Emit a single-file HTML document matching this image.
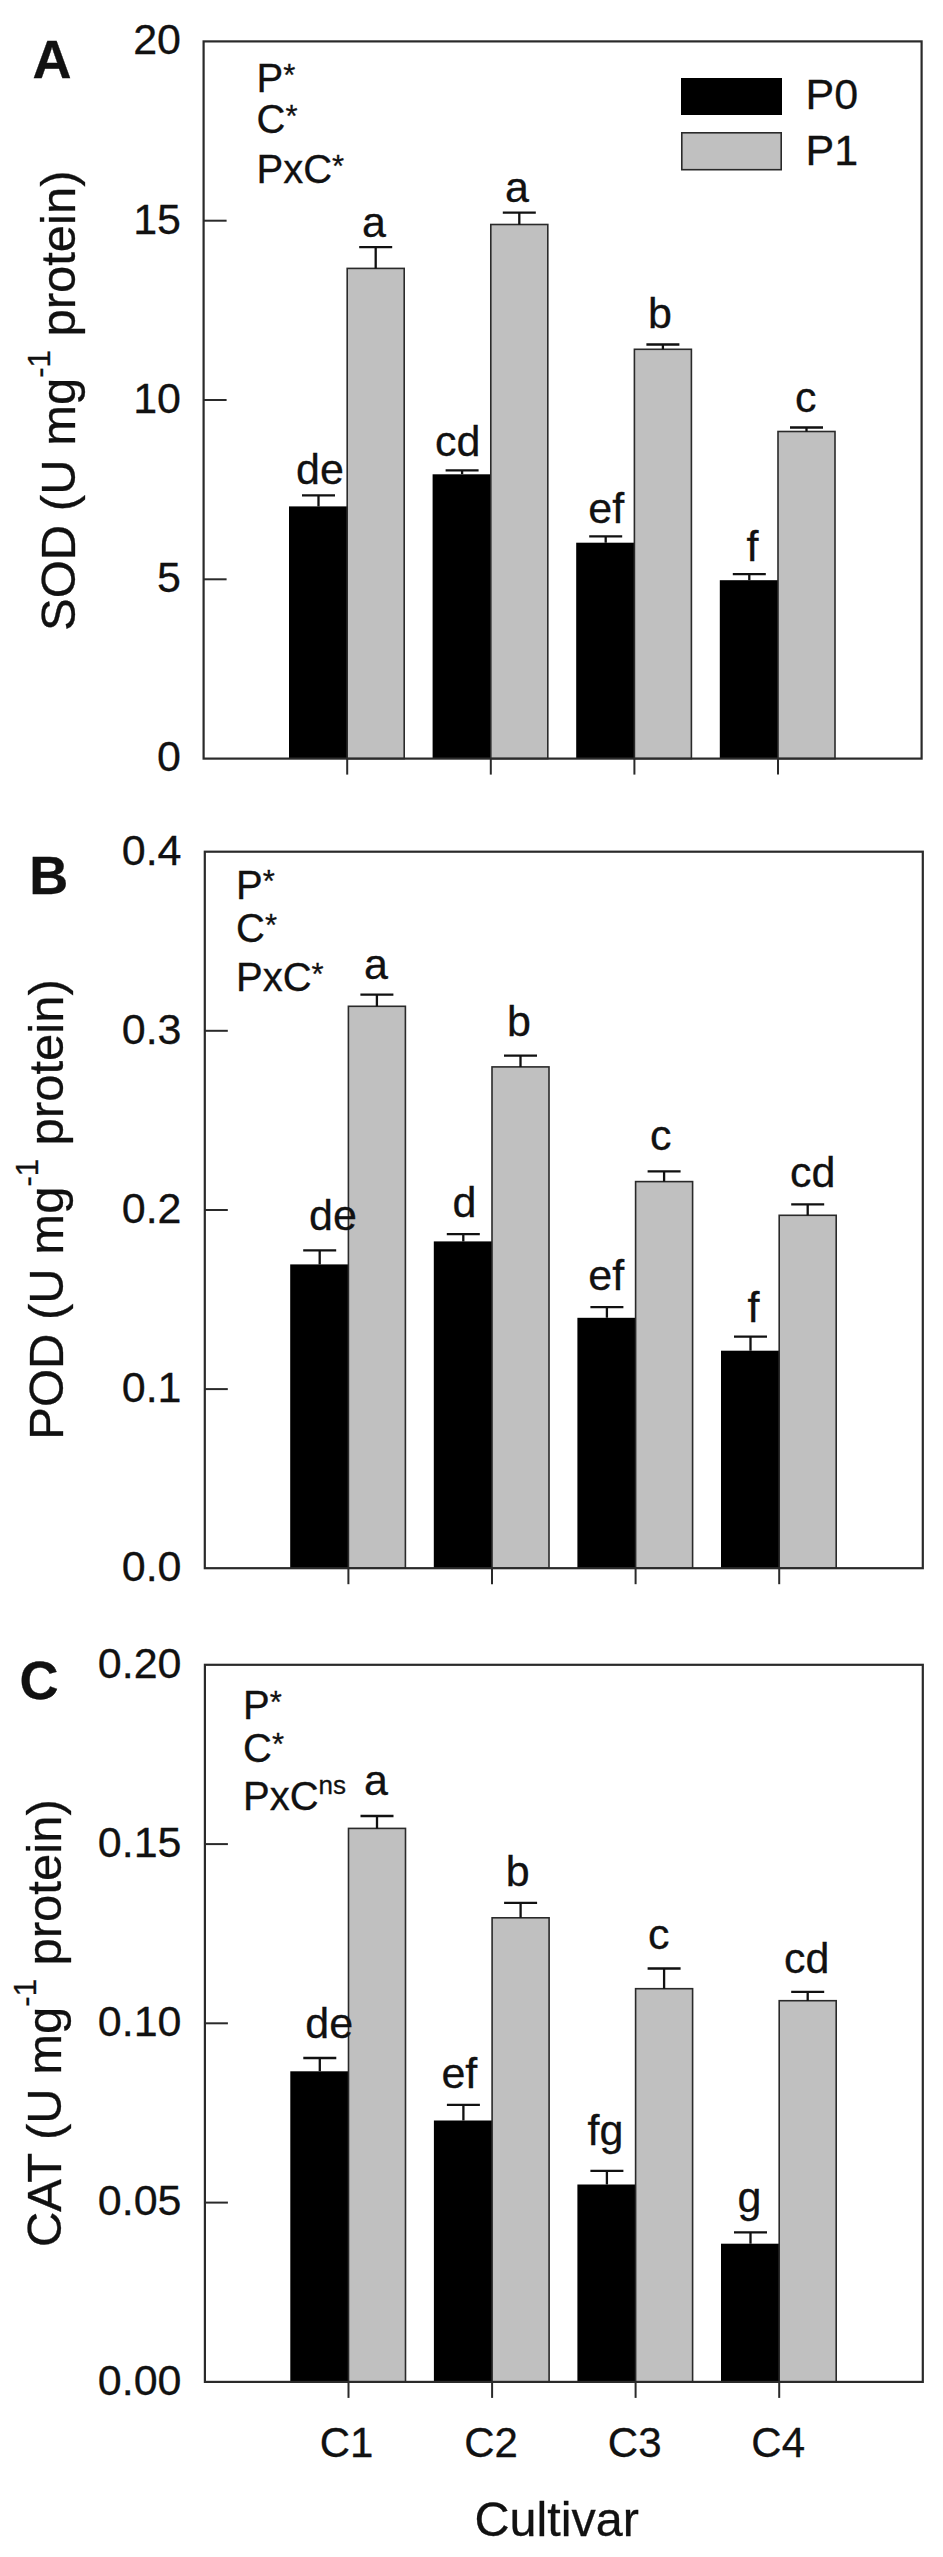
<!DOCTYPE html>
<html lang="en"><head><meta charset="utf-8"><title>Figure</title>
<style>
html,body{margin:0;padding:0;background:#fff;}
svg{display:block;}
text{font-family:"Liberation Sans", sans-serif;fill:#111;stroke:#111;stroke-width:0.3px;}
</style></head><body>
<svg width="943" height="2557" viewBox="0 0 943 2557">
<rect width="943" height="2557" fill="#fff"/>
<rect x="289.0" y="506.4" width="58.2" height="252.2" fill="#000"/>
<rect x="347.2" y="268.4" width="57.0" height="490.2" fill="#c0c0c0" stroke="#2a2a2a" stroke-width="1.6"/>
<path d="M318.5 506.4V495.3M302.0 495.3H335.0" stroke="#111" stroke-width="2.3" fill="none"/>
<path d="M375.7 268.4V247.1M359.2 247.1H392.2" stroke="#111" stroke-width="2.3" fill="none"/>
<rect x="432.6" y="474.3" width="58.2" height="284.3" fill="#000"/>
<rect x="490.8" y="224.5" width="57.0" height="534.1" fill="#c0c0c0" stroke="#2a2a2a" stroke-width="1.6"/>
<path d="M462.1 474.3V470.4M445.6 470.4H478.6" stroke="#111" stroke-width="2.3" fill="none"/>
<path d="M519.3 224.5V212.7M502.8 212.7H535.8" stroke="#111" stroke-width="2.3" fill="none"/>
<rect x="576.2" y="542.7" width="58.2" height="215.9" fill="#000"/>
<rect x="634.4" y="349.3" width="57.0" height="409.3" fill="#c0c0c0" stroke="#2a2a2a" stroke-width="1.6"/>
<path d="M605.7 542.7V536.3M589.2 536.3H622.2" stroke="#111" stroke-width="2.3" fill="none"/>
<path d="M662.9 349.3V344.5M646.4 344.5H679.4" stroke="#111" stroke-width="2.3" fill="none"/>
<rect x="719.8" y="580.2" width="58.2" height="178.4" fill="#000"/>
<rect x="778.0" y="431.5" width="57.0" height="327.1" fill="#c0c0c0" stroke="#2a2a2a" stroke-width="1.6"/>
<path d="M749.3 580.2V574.2M732.8 574.2H765.8" stroke="#111" stroke-width="2.3" fill="none"/>
<path d="M806.5 431.5V427.5M790.0 427.5H823.0" stroke="#111" stroke-width="2.3" fill="none"/>
<rect x="203.6" y="41.4" width="718.0" height="717.2" fill="none" stroke="#2a2a2a" stroke-width="2.2"/>
<line x1="203.6" y1="220.7" x2="226.6" y2="220.7" stroke="#2a2a2a" stroke-width="2"/>
<line x1="203.6" y1="400.0" x2="226.6" y2="400.0" stroke="#2a2a2a" stroke-width="2"/>
<line x1="203.6" y1="579.3" x2="226.6" y2="579.3" stroke="#2a2a2a" stroke-width="2"/>
<line x1="347.2" y1="758.6" x2="347.2" y2="774.6" stroke="#2a2a2a" stroke-width="2"/>
<line x1="490.8" y1="758.6" x2="490.8" y2="774.6" stroke="#2a2a2a" stroke-width="2"/>
<line x1="634.4" y1="758.6" x2="634.4" y2="774.6" stroke="#2a2a2a" stroke-width="2"/>
<line x1="778.0" y1="758.6" x2="778.0" y2="774.6" stroke="#2a2a2a" stroke-width="2"/>
<text x="181.0" y="54.2" font-size="43" text-anchor="end">20</text>
<text x="181.0" y="233.5" font-size="43" text-anchor="end">15</text>
<text x="181.0" y="412.8" font-size="43" text-anchor="end">10</text>
<text x="181.0" y="592.1" font-size="43" text-anchor="end">5</text>
<text x="181.0" y="771.4" font-size="43" text-anchor="end">0</text>
<text x="320.0" y="483.5" font-size="43" text-anchor="middle">de</text>
<text x="374.0" y="236.5" font-size="43" text-anchor="middle">a</text>
<text x="457.7" y="456.1" font-size="43" text-anchor="middle">cd</text>
<text x="517.0" y="201.5" font-size="43" text-anchor="middle">a</text>
<text x="606.3" y="523.0" font-size="43" text-anchor="middle">ef</text>
<text x="660.0" y="327.5" font-size="43" text-anchor="middle">b</text>
<text x="752.6" y="560.9" font-size="43" text-anchor="middle">f</text>
<text x="805.8" y="412.0" font-size="43" text-anchor="middle">c</text>
<text x="256.5" y="92.0" font-size="40">P<tspan font-size="31" dy="-6.4">*</tspan></text>
<text x="256.5" y="133.0" font-size="40">C<tspan font-size="31" dy="-6.4">*</tspan></text>
<text x="256.5" y="183.2" font-size="40">PxC<tspan font-size="31" dy="-6.4">*</tspan></text>
<text x="32.4" y="78.2" font-size="54" font-weight="bold">A</text>
<text transform="translate(75.3 400.7) rotate(-90)" font-size="49" text-anchor="middle" stroke="none">SOD (U mg<tspan font-size="31" dy="-25.5">-1</tspan><tspan dy="25.5"> protein)</tspan></text>
<rect x="681" y="78" width="101" height="37" fill="#000"/>
<rect x="681.8" y="132.8" width="99.4" height="36.9" fill="#c0c0c0" stroke="#2a2a2a" stroke-width="1.6"/>
<text x="805.6" y="109" font-size="43">P0</text>
<text x="805.6" y="165.1" font-size="43">P1</text>
<rect x="290.2" y="1264.4" width="58.2" height="303.8" fill="#000"/>
<rect x="348.4" y="1006.3" width="57.0" height="561.9" fill="#c0c0c0" stroke="#2a2a2a" stroke-width="1.6"/>
<path d="M319.7 1264.4V1250.3M303.2 1250.3H336.2" stroke="#111" stroke-width="2.3" fill="none"/>
<path d="M376.9 1006.3V994.6M360.4 994.6H393.4" stroke="#111" stroke-width="2.3" fill="none"/>
<rect x="433.8" y="1241.4" width="58.2" height="326.8" fill="#000"/>
<rect x="492.0" y="1066.9" width="57.0" height="501.3" fill="#c0c0c0" stroke="#2a2a2a" stroke-width="1.6"/>
<path d="M463.3 1241.4V1234.2M446.8 1234.2H479.8" stroke="#111" stroke-width="2.3" fill="none"/>
<path d="M520.5 1066.9V1055.7M504.0 1055.7H537.0" stroke="#111" stroke-width="2.3" fill="none"/>
<rect x="577.4" y="1317.8" width="58.2" height="250.4" fill="#000"/>
<rect x="635.6" y="1181.6" width="57.0" height="386.6" fill="#c0c0c0" stroke="#2a2a2a" stroke-width="1.6"/>
<path d="M606.9 1317.8V1307.2M590.4 1307.2H623.4" stroke="#111" stroke-width="2.3" fill="none"/>
<path d="M664.1 1181.6V1171.4M647.6 1171.4H680.6" stroke="#111" stroke-width="2.3" fill="none"/>
<rect x="721.0" y="1350.7" width="58.2" height="217.5" fill="#000"/>
<rect x="779.2" y="1215.3" width="57.0" height="352.9" fill="#c0c0c0" stroke="#2a2a2a" stroke-width="1.6"/>
<path d="M750.5 1350.7V1336.6M734.0 1336.6H767.0" stroke="#111" stroke-width="2.3" fill="none"/>
<path d="M807.7 1215.3V1204.4M791.2 1204.4H824.2" stroke="#111" stroke-width="2.3" fill="none"/>
<rect x="204.8" y="851.7" width="718.0" height="716.5" fill="none" stroke="#2a2a2a" stroke-width="2.2"/>
<line x1="204.8" y1="1030.8" x2="227.8" y2="1030.8" stroke="#2a2a2a" stroke-width="2"/>
<line x1="204.8" y1="1210.0" x2="227.8" y2="1210.0" stroke="#2a2a2a" stroke-width="2"/>
<line x1="204.8" y1="1389.1" x2="227.8" y2="1389.1" stroke="#2a2a2a" stroke-width="2"/>
<line x1="348.4" y1="1568.2" x2="348.4" y2="1584.2" stroke="#2a2a2a" stroke-width="2"/>
<line x1="492.0" y1="1568.2" x2="492.0" y2="1584.2" stroke="#2a2a2a" stroke-width="2"/>
<line x1="635.6" y1="1568.2" x2="635.6" y2="1584.2" stroke="#2a2a2a" stroke-width="2"/>
<line x1="779.2" y1="1568.2" x2="779.2" y2="1584.2" stroke="#2a2a2a" stroke-width="2"/>
<text x="181.5" y="864.5" font-size="43" text-anchor="end">0.4</text>
<text x="181.5" y="1043.6" font-size="43" text-anchor="end">0.3</text>
<text x="181.5" y="1222.8" font-size="43" text-anchor="end">0.2</text>
<text x="181.5" y="1401.9" font-size="43" text-anchor="end">0.1</text>
<text x="181.5" y="1581.0" font-size="43" text-anchor="end">0.0</text>
<text x="333.0" y="1230.2" font-size="43" text-anchor="middle">de</text>
<text x="376.0" y="978.5" font-size="43" text-anchor="middle">a</text>
<text x="464.5" y="1216.8" font-size="43" text-anchor="middle">d</text>
<text x="519.0" y="1035.5" font-size="43" text-anchor="middle">b</text>
<text x="606.3" y="1290.0" font-size="43" text-anchor="middle">ef</text>
<text x="660.7" y="1150.4" font-size="43" text-anchor="middle">c</text>
<text x="753.4" y="1321.7" font-size="43" text-anchor="middle">f</text>
<text x="812.7" y="1186.7" font-size="43" text-anchor="middle">cd</text>
<text x="236" y="898.7" font-size="40">P<tspan font-size="31" dy="-6.4">*</tspan></text>
<text x="236" y="942.0" font-size="40">C<tspan font-size="31" dy="-6.4">*</tspan></text>
<text x="236" y="990.9" font-size="40">PxC<tspan font-size="31" dy="-6.4">*</tspan></text>
<text x="29.3" y="893.8" font-size="54" font-weight="bold">B</text>
<text transform="translate(63.0 1209.5) rotate(-90)" font-size="49" text-anchor="middle" stroke="none">POD (U mg<tspan font-size="31" dy="-25.5">-1</tspan><tspan dy="25.5"> protein)</tspan></text>
<rect x="290.3" y="2071.3" width="58.2" height="310.6" fill="#000"/>
<rect x="348.5" y="1828.4" width="57.0" height="553.5" fill="#c0c0c0" stroke="#2a2a2a" stroke-width="1.6"/>
<path d="M319.8 2071.3V2058.0M303.3 2058.0H336.3" stroke="#111" stroke-width="2.3" fill="none"/>
<path d="M377.0 1828.4V1816.0M360.5 1816.0H393.5" stroke="#111" stroke-width="2.3" fill="none"/>
<rect x="433.9" y="2120.5" width="58.2" height="261.4" fill="#000"/>
<rect x="492.1" y="1917.8" width="57.0" height="464.1" fill="#c0c0c0" stroke="#2a2a2a" stroke-width="1.6"/>
<path d="M463.4 2120.5V2104.8M446.9 2104.8H479.9" stroke="#111" stroke-width="2.3" fill="none"/>
<path d="M520.6 1917.8V1902.9M504.1 1902.9H537.1" stroke="#111" stroke-width="2.3" fill="none"/>
<rect x="577.4" y="2184.5" width="58.2" height="197.4" fill="#000"/>
<rect x="635.6" y="1988.7" width="57.0" height="393.2" fill="#c0c0c0" stroke="#2a2a2a" stroke-width="1.6"/>
<path d="M606.9 2184.5V2170.8M590.4 2170.8H623.4" stroke="#111" stroke-width="2.3" fill="none"/>
<path d="M664.1 1988.7V1968.5M647.6 1968.5H680.6" stroke="#111" stroke-width="2.3" fill="none"/>
<rect x="721.0" y="2243.7" width="58.2" height="138.2" fill="#000"/>
<rect x="779.2" y="2000.7" width="57.0" height="381.2" fill="#c0c0c0" stroke="#2a2a2a" stroke-width="1.6"/>
<path d="M750.5 2243.7V2232.4M734.0 2232.4H767.0" stroke="#111" stroke-width="2.3" fill="none"/>
<path d="M807.7 2000.7V1991.9M791.2 1991.9H824.2" stroke="#111" stroke-width="2.3" fill="none"/>
<rect x="204.9" y="1664.8" width="717.9" height="717.1000000000001" fill="none" stroke="#2a2a2a" stroke-width="2.2"/>
<line x1="204.9" y1="1844.1" x2="227.9" y2="1844.1" stroke="#2a2a2a" stroke-width="2"/>
<line x1="204.9" y1="2023.3" x2="227.9" y2="2023.3" stroke="#2a2a2a" stroke-width="2"/>
<line x1="204.9" y1="2202.6" x2="227.9" y2="2202.6" stroke="#2a2a2a" stroke-width="2"/>
<line x1="348.5" y1="2381.9" x2="348.5" y2="2397.9" stroke="#2a2a2a" stroke-width="2"/>
<line x1="492.1" y1="2381.9" x2="492.1" y2="2397.9" stroke="#2a2a2a" stroke-width="2"/>
<line x1="635.6" y1="2381.9" x2="635.6" y2="2397.9" stroke="#2a2a2a" stroke-width="2"/>
<line x1="779.2" y1="2381.9" x2="779.2" y2="2397.9" stroke="#2a2a2a" stroke-width="2"/>
<text x="181.5" y="1677.6" font-size="43" text-anchor="end">0.20</text>
<text x="181.5" y="1856.9" font-size="43" text-anchor="end">0.15</text>
<text x="181.5" y="2036.1" font-size="43" text-anchor="end">0.10</text>
<text x="181.5" y="2215.4" font-size="43" text-anchor="end">0.05</text>
<text x="181.5" y="2394.7" font-size="43" text-anchor="end">0.00</text>
<text x="329.2" y="2037.9" font-size="43" text-anchor="middle">de</text>
<text x="376.0" y="1794.5" font-size="43" text-anchor="middle">a</text>
<text x="459.4" y="2088.3" font-size="43" text-anchor="middle">ef</text>
<text x="517.8" y="1886.0" font-size="43" text-anchor="middle">b</text>
<text x="605.5" y="2145.3" font-size="43" text-anchor="middle">fg</text>
<text x="658.7" y="1949.2" font-size="43" text-anchor="middle">c</text>
<text x="749.4" y="2212.3" font-size="43" text-anchor="middle">g</text>
<text x="806.6" y="1972.5" font-size="43" text-anchor="middle">cd</text>
<text x="243" y="1718.9" font-size="40">P<tspan font-size="31" dy="-6.4">*</tspan></text>
<text x="243" y="1761.7" font-size="40">C<tspan font-size="31" dy="-6.4">*</tspan></text>
<text x="243" y="1810.0" font-size="40">PxC<tspan font-size="26" dy="-16.5">ns</tspan></text>
<text x="19.4" y="1698.9" font-size="54" font-weight="bold">C</text>
<text transform="translate(61.2 2023.2) rotate(-90)" font-size="49" text-anchor="middle" stroke="none">CAT (U mg<tspan font-size="31" dy="-25.5">-1</tspan><tspan dy="25.5"> protein)</tspan></text>
<text x="346.5" y="2456.8" font-size="42" text-anchor="middle">C1</text>
<text x="491.1" y="2456.8" font-size="42" text-anchor="middle">C2</text>
<text x="634.7" y="2456.8" font-size="42" text-anchor="middle">C3</text>
<text x="778.2" y="2456.8" font-size="42" text-anchor="middle">C4</text>
<text x="556.7" y="2536" font-size="48.5" text-anchor="middle" stroke="none">Cultivar</text>
</svg>
</body></html>
